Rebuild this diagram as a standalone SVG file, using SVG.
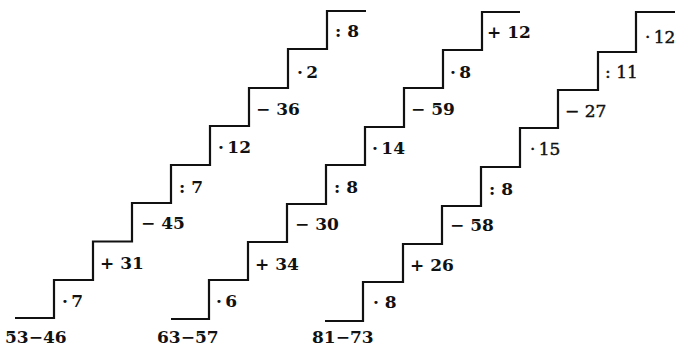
<svg xmlns="http://www.w3.org/2000/svg" width="678" height="346" viewBox="0 0 678 346">
<style>
.stair{fill:none;stroke:#111;stroke-width:2.2;stroke-linejoin:miter}
text{font-family:"DejaVu Serif","Liberation Serif",serif;font-size:17px;font-weight:bold;fill:#111}
.lt{font-weight:normal;stroke:#111;stroke-width:0.45}
</style>
<rect width="678" height="346" fill="#fff"/>
<g id="connectors">
<path class="stair" d="M15,318 H54 V280 H93 V241.5 H132 V203 H171 V165 H210 V126 H249 V88 H288 V49 H327 V11 H366"/>
<path class="stair" d="M171,319 H209 V280 H248 V242 H287 V204 H326 V165 H365 V127 H404 V88 H443 V50 H482 V12 H520"/>
<path class="stair" d="M325,321 H363 V282 H403 V244 H442 V206 H481 V167 H520 V128 H558 V90 H598 V52 H636 V12 H675"/>
</g>
<g id="stairs1">
<text x="5" y="343">53−46</text>
<text x="62" y="307">·&#8201;7</text>
<text x="100" y="269">+ 31</text>
<text x="141" y="229">− 45</text>
<text x="179" y="193">: 7</text>
<text x="218" y="153">·&#8201;12</text>
<text x="256" y="115">− 36</text>
<text x="297" y="78">·&#8201;2</text>
<text x="335" y="37">: 8</text>
</g>
<g id="stairs2">
<text x="157" y="343">63−57</text>
<text x="216" y="307">·&#8201;6</text>
<text x="255" y="270">+ 34</text>
<text x="295" y="230">− 30</text>
<text x="334" y="193">: 8</text>
<text x="372" y="154">·&#8201;14</text>
<text x="411" y="115">− 59</text>
<text x="450" y="78">·&#8201;8</text>
<text x="487" y="38">+ 12</text>
</g>
<g id="stairs3">
<text x="312" y="343">81−73</text>
<text x="373" y="308">· 8</text>
<text x="410" y="271">+ 26</text>
<text x="450" y="231">− 58</text>
<text x="489" y="195">: 8</text>
<text class="lt" x="530" y="155">·&#8201;15</text>
<text class="lt" x="565" y="117">− 27</text>
<text class="lt" x="605" y="78">: 11</text>
<text class="lt" x="645" y="43">·&#8201;12</text>
</g>
</svg>
